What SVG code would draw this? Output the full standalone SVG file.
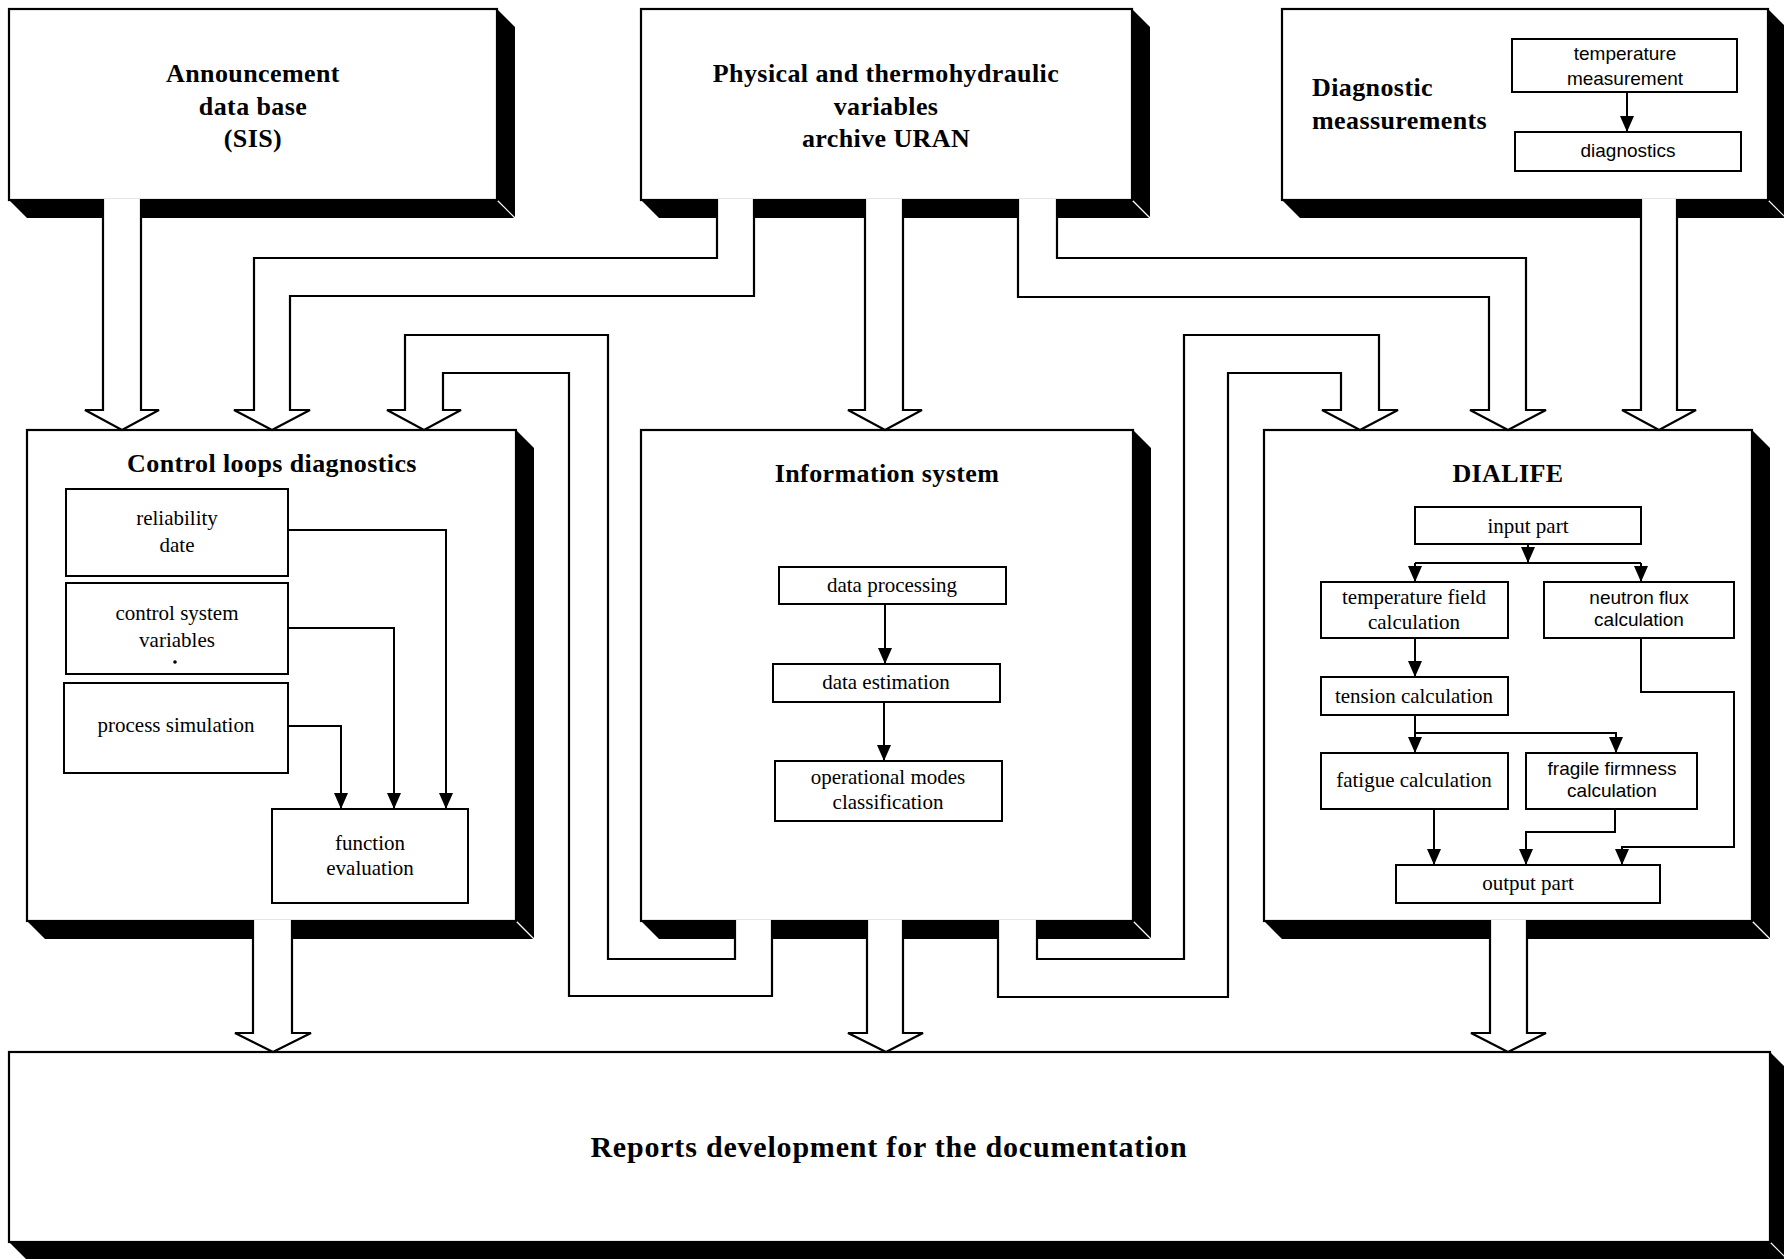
<svg xmlns="http://www.w3.org/2000/svg" width="1784" height="1259" viewBox="0 0 1784 1259">
<style>
.shadow{fill:#000}
.bevel{stroke:#fff;stroke-width:1.2}
.box{fill:#fff;stroke:#000;stroke-width:2.2}
.sub{fill:#fff;stroke:#000;stroke-width:2}
.band{fill:#fff;stroke:#000;stroke-width:2.2;stroke-linejoin:miter}
.flow{fill:none;stroke:#000;stroke-width:2}
.h{font-family:"Liberation Serif","Times New Roman",serif;font-weight:bold;font-size:26px;text-anchor:middle;fill:#000;letter-spacing:0.4px}
.t{font-family:"Liberation Serif","Times New Roman",serif;font-size:21px;text-anchor:middle;fill:#000}
.s{font-family:"Liberation Sans",Arial,sans-serif;font-size:19px;text-anchor:middle;fill:#000}
.s19{font-family:"Liberation Sans",Arial,sans-serif;font-size:19px;text-anchor:middle;fill:#000}
</style>
<defs>
<marker id="ah" markerUnits="userSpaceOnUse" markerWidth="16" markerHeight="14" viewBox="0 0 16 14" refX="16" refY="7" orient="auto"><path d="M0,0 L16,7 L0,14 z" fill="#000"/></marker>
</defs>
<rect x="0" y="0" width="1784" height="1259" fill="#fff"/>

<g id="announcement">
<polygon class="shadow" points="497,9 515,27 515,218 27,218 9,200 497,200"/>
<line class="bevel" x1="497" y1="200" x2="515" y2="218"/>
<rect class="box" x="9" y="9" width="488" height="191"/>
<text class="h" x="253" y="82">Announcement</text>
<text class="h" x="253" y="115">data base</text>
<text class="h" x="253" y="147">(SIS)</text>
</g>

<g id="physical">
<polygon class="shadow" points="1132,9 1150,27 1150,218 659,218 641,200 1132,200"/>
<line class="bevel" x1="1132" y1="200" x2="1150" y2="218"/>
<rect class="box" x="641" y="9" width="491" height="191"/>
<text class="h" x="886" y="82">Physical and thermohydraulic</text>
<text class="h" x="886" y="115">variables</text>
<text class="h" x="886" y="147">archive URAN</text>
</g>

<g id="diagnostic">
<polygon class="shadow" points="1768,9 1786,27 1786,218 1300,218 1282,200 1768,200"/>
<line class="bevel" x1="1768" y1="200" x2="1786" y2="218"/>
<rect class="box" x="1282" y="9" width="486" height="191"/>
<text class="h" x="1312" y="96" style="text-anchor:start">Diagnostic</text>
<text class="h" x="1312" y="129" style="text-anchor:start">meassurements</text>
<g id="temperature-measurement">
<rect class="sub" x="1512" y="39" width="225" height="53"/>
<text class="s19" x="1625" y="60">temperature</text>
<text class="s19" x="1625" y="85">measurement</text>
</g>
<g id="diagnostics">
<rect class="sub" x="1515" y="132" width="226" height="39"/>
<text class="s19" x="1628" y="157">diagnostics</text>
</g>
</g>

<g id="control-loops">
<polygon class="shadow" points="516,430 534,448 534,939 45,939 27,921 516,921"/>
<line class="bevel" x1="516" y1="921" x2="534" y2="939"/>
<rect class="box" x="27" y="430" width="489" height="491"/>
<text class="h" x="272" y="472">Control loops diagnostics</text>
<g id="reliability-date">
<rect class="sub" x="66" y="489" width="222" height="87"/>
<text class="t" x="177" y="525">reliability</text>
<text class="t" x="177" y="552">date</text>
</g>
<g id="control-system-variables">
<rect class="sub" x="66" y="583" width="222" height="91"/>
<text class="t" x="177" y="620">control system</text>
<text class="t" x="177" y="647">variables</text>
<circle cx="175" cy="662" r="1.8" fill="#000"/>
</g>
<g id="process-simulation">
<rect class="sub" x="64" y="683" width="224" height="90"/>
<text class="t" x="176" y="732">process simulation</text>
</g>
<g id="function-evaluation">
<rect class="sub" x="272" y="809" width="196" height="94"/>
<text class="t" x="370" y="850">function</text>
<text class="t" x="370" y="875">evaluation</text>
</g>
</g>

<g id="information-system">
<polygon class="shadow" points="1133,430 1151,448 1151,939 659,939 641,921 1133,921"/>
<line class="bevel" x1="1133" y1="921" x2="1151" y2="939"/>
<rect class="box" x="641" y="430" width="492" height="491"/>
<text class="h" x="887" y="482">Information system</text>
<g id="data-processing">
<rect class="sub" x="779" y="567" width="227" height="37"/>
<text class="t" x="892" y="592">data processing</text>
</g>
<g id="data-estimation">
<rect class="sub" x="773" y="664" width="227" height="38"/>
<text class="t" x="886" y="689">data estimation</text>
</g>
<g id="operational-modes">
<rect class="sub" x="775" y="761" width="227" height="60"/>
<text class="t" x="888" y="784">operational modes</text>
<text class="t" x="888" y="809">classification</text>
</g>
</g>

<g id="dialife">
<polygon class="shadow" points="1752,430 1770,448 1770,939 1282,939 1264,921 1752,921"/>
<line class="bevel" x1="1752" y1="921" x2="1770" y2="939"/>
<rect class="box" x="1264" y="430" width="488" height="491"/>
<text class="h" x="1508" y="482">DIALIFE</text>
<g id="input-part">
<rect class="sub" x="1415" y="507" width="226" height="37"/>
<text class="t" x="1528" y="533">input part</text>
</g>
<g id="temperature-field">
<rect class="sub" x="1321" y="582" width="187" height="56"/>
<text class="t" x="1414" y="604">temperature field</text>
<text class="t" x="1414" y="629">calculation</text>
</g>
<g id="neutron-flux">
<rect class="sub" x="1544" y="582" width="190" height="56"/>
<text class="s" x="1639" y="604">neutron flux</text>
<text class="s" x="1639" y="626">calculation</text>
</g>
<g id="tension">
<rect class="sub" x="1321" y="677" width="187" height="38"/>
<text class="t" x="1414" y="703">tension calculation</text>
</g>
<g id="fatigue">
<rect class="sub" x="1321" y="753" width="187" height="56"/>
<text class="t" x="1414" y="787">fatigue calculation</text>
</g>
<g id="fragile-firmness">
<rect class="sub" x="1526" y="753" width="171" height="56"/>
<text class="s" x="1612" y="775">fragile firmness</text>
<text class="s" x="1612" y="797">calculation</text>
</g>
<g id="output-part">
<rect class="sub" x="1396" y="865" width="264" height="38"/>
<text class="t" x="1528" y="890">output part</text>
</g>
</g>

<g id="reports">
<polygon class="shadow" points="1770,1052 1787,1069 1787,1259 26,1259 9,1242 1770,1242"/>
<line class="bevel" x1="1770" y1="1242" x2="1787" y2="1259"/>
<rect class="box" x="9" y="1052" width="1761" height="190"/>
<text class="h" x="889" y="1157" style="font-size:30px;letter-spacing:0.8px">Reports development for the documentation</text>
</g>

<g id="connectors">
<path class="band" d="M103,199 V410 H85 L122,430 L159,410 H141 V199"/>
<path class="band" d="M717,199 V258 H254 V410 H234 L272,430 L310,410 H290 V296 H754 V199"/>
<path class="band" d="M865,199 V410 H848 L885,430 L922,410 H903 V199"/>
<path class="band" d="M1018,199 V297 H1489 V410 H1470 L1508,430 L1546,410 H1526 V258 H1057 V199"/>
<path class="band" d="M1641,199 V410 H1622 L1659,430 L1696,410 H1677 V199"/>
<path class="band" d="M735,920 V959 H608 V335 H405 V410 H387 L424,430 L461,410 H443 V373 H569 V996 H772 V920"/>
<path class="band" d="M998,920 V997 H1228 V373 H1341 V410 H1322 L1360,430 L1398,410 H1379 V335 H1184 V959 H1037 V920"/>
<path class="band" d="M253,920 V1033 H235 L273,1052 L311,1033 H292 V920"/>
<path class="band" d="M867,920 V1033 H848 L886,1052 L923,1033 H903 V920"/>
<path class="band" d="M1490,920 V1033 H1471 L1508,1052 L1546,1033 H1527 V920"/>

<path class="flow" d="M1627,92 V132" marker-end="url(#ah)"/>

<path class="flow" d="M288,530 H446 V809" marker-end="url(#ah)"/>
<path class="flow" d="M288,628 H394 V809" marker-end="url(#ah)"/>
<path class="flow" d="M288,726 H341 V809" marker-end="url(#ah)"/>

<path class="flow" d="M885,604 V664" marker-end="url(#ah)"/>
<path class="flow" d="M884,702 V761" marker-end="url(#ah)"/>

<path class="flow" d="M1528,544 V563" marker-end="url(#ah)"/>
<path class="flow" d="M1415,563 H1641"/>
<path class="flow" d="M1415,563 V582" marker-end="url(#ah)"/>
<path class="flow" d="M1641,563 V582" marker-end="url(#ah)"/>
<path class="flow" d="M1415,638 V677" marker-end="url(#ah)"/>
<path class="flow" d="M1415,715 V753" marker-end="url(#ah)"/>
<path class="flow" d="M1415,733 H1616 V753" marker-end="url(#ah)"/>
<path class="flow" d="M1434,809 V865" marker-end="url(#ah)"/>
<path class="flow" d="M1615,809 V832 H1526 V865" marker-end="url(#ah)"/>
<path class="flow" d="M1641,638 V692 H1734 V847 H1622 V865" marker-end="url(#ah)"/>
</g>
</svg>
